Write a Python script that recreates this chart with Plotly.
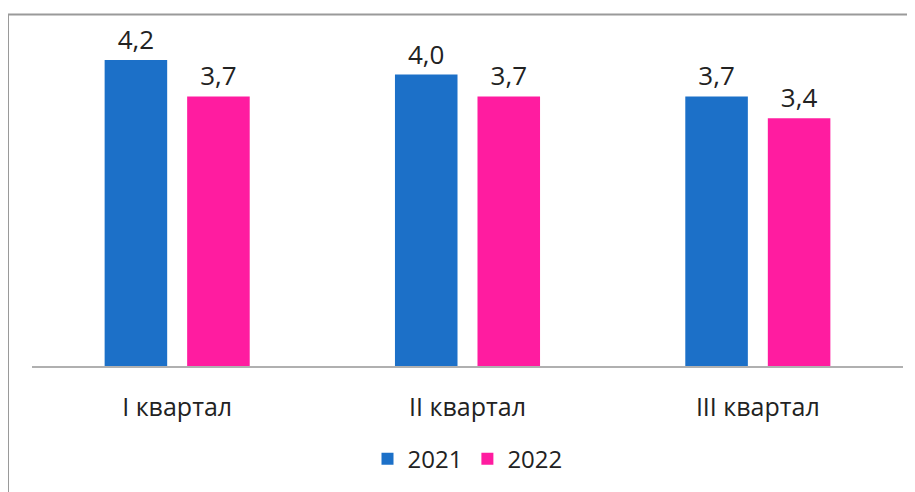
import plotly.graph_objects as go

categories = ["I квартал", "II квартал", "III квартал"]
series_names = ["2021", "2022"]
values_2021 = [4.2, 4.0, 3.7]
values_2022 = [3.7, 3.7, 3.4]
colors = ["#1C70C8", "#FF1CA0"]

FONT = "Open Sans"
TXT = "#222222"
W, H = 915, 492
# page has an 8px body margin; margins below are in figure coordinates
L, T = 24, 12
plot_w, plot_h = 871, 346
R = W - L - plot_w
B = H - T - plot_h

fig = go.Figure()
for name, vals, col in zip(series_names, [values_2021, values_2022], colors):
    fig.add_trace(go.Bar(
        x=categories, y=vals, name=name, marker=dict(color=col, line=dict(width=0)),
        texttemplate="%{y:.1f}", textposition="outside",
        textfont=dict(size=26, color=TXT, family=FONT),
        cliponaxis=False,
    ))

bx = (0 - L) / plot_w
by = 1 + (T - 6.5) / plot_h
fig.add_shape(type="line", xref="paper", yref="paper", x0=bx, x1=bx, y0=-0.6, y1=by,
              line=dict(color="#9A9A9A", width=2))
fig.add_shape(type="line", xref="paper", yref="paper", x0=bx, x1=1.2, y0=by, y1=by,
              line=dict(color="#9A9A9A", width=2))

fig.update_layout(
    width=W, height=H,
    margin=dict(l=L, r=R, t=T, b=B, autoexpand=False),
    paper_bgcolor="white", plot_bgcolor="white",
    separators=", ",
    barmode="group", bargap=0.4315, bargroupgap=0.242,
    font=dict(family=FONT, color=TXT),
    showlegend=True,
    legend=dict(orientation="h", x=0.5, xanchor="center", y=-0.269, yanchor="middle",
                font=dict(size=24, color=TXT), itemwidth=30, traceorder="normal"),
    xaxis=dict(showline=True, linecolor="#B0B0B0", linewidth=1.5, showgrid=False,
               ticks="", tickfont=dict(size=25, color=TXT), ticklabelstandoff=18),
    yaxis=dict(visible=False, range=[0, plot_h / 72.86], showgrid=False),
)

fig.write_html("out.html")
